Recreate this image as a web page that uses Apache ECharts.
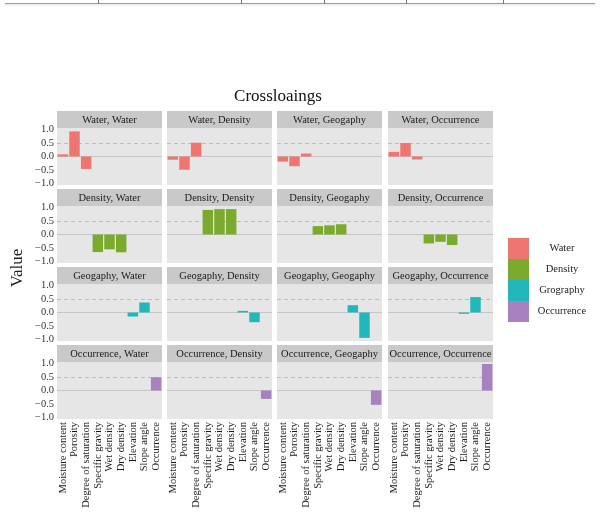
<!DOCTYPE html>
<html>
<head>
<meta charset="utf-8">
<script src="https://cdn.jsdelivr.net/npm/echarts@6/dist/echarts.min.js"></script>
<style>html,body{margin:0;padding:0;background:#fff;}#c{width:604px;height:516px;}</style>
</head>
<body>
<div id="c"></div>
<script>
const categories = ['Moisture content','Porosity','Degree of saturation','Specific gravity','Wet density','Dry density','Elevation','Slope angle','Occurrence'];
const groupNames = ['Water','Density','Grography','Occurrence'];
const stripRowNames = ['Water','Density','Geogaphy','Occurrence'];
const stripColNames = ['Water','Density','Geogaphy','Occurrence'];
const groupStart = [0,3,6,8];
const yTicks = [-1,-0.5,0,0.5,1];

// row group = variables plotted, column = factor
const waterWater = [0.08, 0.93, -0.46];
const waterDensity = [-0.12, -0.49, 0.51];
const waterGeography = [-0.19, -0.36, 0.11];
const waterOccurrence = [0.17, 0.50, -0.11];
const densityWater = [-0.65, -0.55, -0.66];
const densityDensity = [0.91, 0.94, 0.94];
const densityGeography = [0.31, 0.34, 0.38];
const densityOccurrence = [-0.33, -0.27, -0.39];
const geographyWater = [-0.15, 0.37];
const geographyDensity = [0.06, -0.36];
const geographyGeography = [0.27, -0.94];
const geographyOccurrence = [-0.05, 0.57];
const occurrenceWater = [0.49];
const occurrenceDensity = [-0.31];
const occurrenceGeography = [-0.53];
const occurrenceOccurrence = [0.98];

const panelValues = [
  [waterWater, waterDensity, waterGeography, waterOccurrence],
  [densityWater, densityDensity, densityGeography, densityOccurrence],
  [geographyWater, geographyDensity, geographyGeography, geographyOccurrence],
  [occurrenceWater, occurrenceDensity, occurrenceGeography, occurrenceOccurrence]
];

const colors = ['#EF7570','#7BAB2C','#22B7BA','#A881C0'];
const FONT = 'Liberation Serif';
const lefts = [57,167,277,388];
const stripTops = [111,189,267,345];
const PW = 105, SH = 17, PH = 57;

const grids = [], xAxes = [], yAxes = [], series = [], graphics = [];
for (let r = 0; r < 4; r++) {
  for (let c = 0; c < 4; c++) {
    const idx = r * 4 + c;
    grids.push({left: lefts[c], top: stripTops[r] + SH, width: PW, height: PH,
      show: true, backgroundColor: '#E6E6E6', borderWidth: 0});
    xAxes.push({type: 'category', gridIndex: idx, data: categories,
      axisLine: {show: false}, axisTick: {show: false}, splitLine: {show: false},
      axisLabel: {show: r === 3, rotate: 90, interval: 0, fontSize: 10.5, fontFamily: FONT, color: '#1a1a1a', margin: 3}});
    yAxes.push({type: 'value', gridIndex: idx, min: -1.055, max: 1.055,
      axisLine: {show: false}, axisTick: {show: false}, splitLine: {show: false},
      axisLabel: {show: c === 0, customValues: yTicks, fontSize: 10.5, fontFamily: FONT, color: '#333', margin: 3,
        formatter: v => (v < 0 ? '\u2212' : '') + Math.abs(v).toFixed(1)}});
    const vals = panelValues[r][c];
    const data = categories.map((_, k) => {
      const j = k - groupStart[r];
      return (j >= 0 && j < vals.length) ? vals[j] : '-';
    });
    series.push({type: 'bar', name: groupNames[r], xAxisIndex: idx, yAxisIndex: idx,
      data: data, barWidth: '90%', z: 3, itemStyle: {color: colors[r]}, silent: true,
      markLine: {silent: true, symbol: 'none', z: 1, label: {show: false},
        data: [
          {yAxis: 0, lineStyle: {type: 'solid', color: '#C6C6C6', width: 1}},
          {yAxis: 0.5, lineStyle: {type: [4, 3], color: '#BDBDBD', width: 1}}
        ]}});
    graphics.push({type: 'rect', shape: {x: lefts[c], y: stripTops[r], width: PW, height: SH},
      style: {fill: '#C9C9C9'}, silent: true});
    graphics.push({type: 'text', x: lefts[c] + PW / 2, y: stripTops[r] + SH / 2 + 0.5,
      style: {text: stripRowNames[r] + ', ' + stripColNames[c], font: '10.5px "Liberation Serif"',
        fill: '#1a1a1a', textAlign: 'center', textVerticalAlign: 'middle'}, silent: true});
  }
}

// y-axis title
graphics.push({type: 'text', x: 18, y: 268, rotation: Math.PI / 2,
  style: {text: 'Value', font: '17px "Liberation Serif"', fill: '#222', textAlign: 'center', textVerticalAlign: 'middle'}});
// cropped-page border line at top
graphics.push({type: 'line', shape: {x1: 5, y1: 3.5, x2: 595, y2: 3.5}, style: {stroke: '#9a9a9a', lineWidth: 1}});
graphics.push({type: 'line', shape: {x1: 5, y1: 5, x2: 595, y2: 5}, style: {stroke: '#e2e2e2', lineWidth: 1}});
[98, 241, 324, 406, 503].forEach(x => {
  graphics.push({type: 'line', shape: {x1: x + 0.5, y1: 0, x2: x + 0.5, y2: 4}, style: {stroke: '#777', lineWidth: 1}});
});

const option = {
  animation: false,
  backgroundColor: '#fff',
  title: {text: 'Crossloaings', left: 273, top: 83, textAlign: 'center',
    textStyle: {fontFamily: FONT, fontSize: 17, fontWeight: 'normal', color: '#111'}},
  legend: {data: groupNames, orient: 'vertical', left: 508, top: 238, padding: 0, itemWidth: 21, itemHeight: 21, itemGap: 0,
    icon: 'rect', selectedMode: false, itemStyle: {borderWidth: 0},
    formatter: n => '{a|' + n + '}',
    textStyle: {fontFamily: FONT, fontSize: 10.5, color: '#222',
      rich: {a: {width: 56, align: 'center', fontFamily: FONT, fontSize: 10.5, color: '#222'}}}},
  grid: grids, xAxis: xAxes, yAxis: yAxes, series: series, graphic: graphics
};
const chart = echarts.init(document.getElementById('c'), null, {renderer: 'canvas'});
chart.setOption(option);
</script>
</body>
</html>
